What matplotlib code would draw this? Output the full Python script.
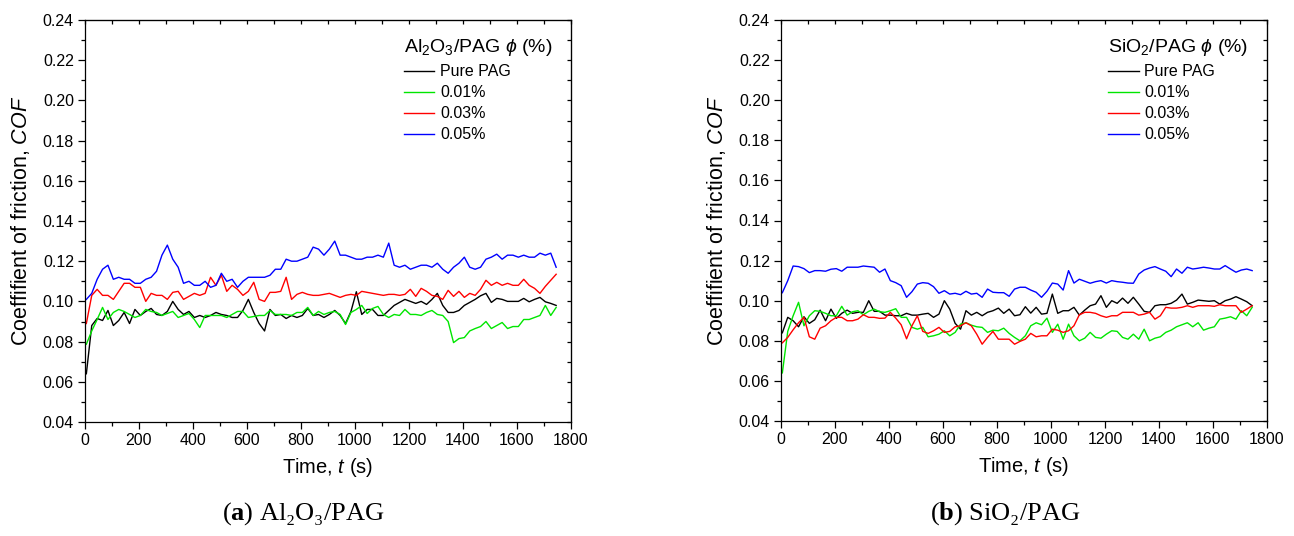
import numpy as np
import matplotlib
matplotlib.use("Agg")
import matplotlib.pyplot as plt
from matplotlib.ticker import MultipleLocator, FormatStrFormatter

plt.rcParams["font.family"] = ["Liberation Sans", "DejaVu Sans"]
plt.rcParams["mathtext.fontset"] = "custom"
plt.rcParams["mathtext.rm"] = "Liberation Sans"
plt.rcParams["mathtext.it"] = "Liberation Sans:italic"
plt.rcParams["mathtext.bf"] = "Liberation Serif:bold"

# sliding time (s), one reading every 20 s
time_s = np.arange(5, 1750, 20)

labels = ["Pure PAG", "0.01%", "0.03%", "0.05%"]
colors = ["#000000", "#00e600", "#ff0000", "#0000ff"]

# (a) Al2O3/PAG
al_pure = [0.064, 0.088, 0.0915, 0.0905, 0.0955, 0.088, 0.0905, 0.0945, 0.089, 0.096,
           0.093, 0.095, 0.0965, 0.0935, 0.093, 0.095, 0.100, 0.096, 0.0935, 0.095,
           0.092, 0.093, 0.092, 0.093, 0.0945, 0.0935, 0.093, 0.092, 0.092, 0.0955,
           0.101, 0.0945, 0.089, 0.0853, 0.096, 0.093, 0.0935, 0.0915, 0.093, 0.092,
           0.093, 0.0965, 0.093, 0.0935, 0.092, 0.0935, 0.0955, 0.093, 0.089, 0.095,
           0.1048, 0.0935, 0.096, 0.096, 0.093, 0.093, 0.0955, 0.098, 0.0995, 0.101,
           0.100, 0.099, 0.100, 0.0985, 0.101, 0.104, 0.098, 0.0945, 0.0945, 0.0955,
           0.098, 0.0995, 0.101, 0.1028, 0.104, 0.0995, 0.1015, 0.101, 0.100, 0.100,
           0.100, 0.1015, 0.0998, 0.101, 0.102, 0.0998, 0.099, 0.098]
al_001 = [0.0787, 0.0853, 0.091, 0.097, 0.091, 0.0945, 0.096, 0.095, 0.0935, 0.092,
          0.093, 0.096, 0.095, 0.0945, 0.093, 0.094, 0.095, 0.092, 0.093, 0.094,
          0.091, 0.087, 0.093, 0.093, 0.093, 0.093, 0.092, 0.0935, 0.095, 0.095,
          0.092, 0.0925, 0.093, 0.093, 0.0955, 0.0935, 0.0935, 0.0935, 0.093, 0.0945,
          0.0945, 0.097, 0.093, 0.095, 0.0935, 0.0945, 0.095, 0.0935, 0.0885, 0.0945,
          0.096, 0.098, 0.094, 0.0965, 0.0975, 0.0935, 0.092, 0.0935, 0.093, 0.096,
          0.0935, 0.0935, 0.093, 0.0945, 0.0955, 0.0935, 0.093, 0.090, 0.0795, 0.0815,
          0.082, 0.0853, 0.0865, 0.0875, 0.090, 0.0865, 0.088, 0.0895, 0.0865, 0.0875,
          0.0875, 0.091, 0.091, 0.092, 0.093, 0.098, 0.093, 0.097]
al_003 = [0.089, 0.103, 0.106, 0.103, 0.103, 0.101, 0.105, 0.109, 0.109, 0.107,
          0.107, 0.100, 0.104, 0.103, 0.103, 0.101, 0.1045, 0.105, 0.101, 0.1025,
          0.104, 0.103, 0.104, 0.112, 0.108, 0.113, 0.105, 0.108, 0.106, 0.103,
          0.105, 0.1095, 0.101, 0.100, 0.1045, 0.1045, 0.105, 0.112, 0.101, 0.1035,
          0.1045, 0.1035, 0.103, 0.103, 0.1035, 0.104, 0.103, 0.102, 0.103, 0.1035,
          0.103, 0.105, 0.1045, 0.104, 0.1035, 0.103, 0.1035, 0.1035, 0.103, 0.1035,
          0.106, 0.1025, 0.1065, 0.105, 0.103, 0.1025, 0.101, 0.1055, 0.1025, 0.105,
          0.102, 0.104, 0.103, 0.106, 0.1105, 0.108, 0.1095, 0.108, 0.109, 0.108,
          0.108, 0.111, 0.108, 0.1065, 0.104, 0.1075, 0.1105, 0.1135]
al_005 = [0.101, 0.104, 0.111, 0.116, 0.118, 0.111, 0.112, 0.111, 0.111, 0.109,
          0.109, 0.111, 0.112, 0.115, 0.123, 0.128, 0.121, 0.117, 0.109, 0.110,
          0.108, 0.108, 0.110, 0.107, 0.108, 0.114, 0.110, 0.111, 0.107, 0.110,
          0.112, 0.112, 0.112, 0.112, 0.113, 0.116, 0.116, 0.121, 0.120, 0.120,
          0.121, 0.122, 0.127, 0.126, 0.123, 0.126, 0.130, 0.123, 0.123, 0.122,
          0.121, 0.121, 0.122, 0.122, 0.123, 0.122, 0.129, 0.118, 0.117, 0.118,
          0.116, 0.117, 0.118, 0.118, 0.117, 0.119, 0.116, 0.114, 0.117, 0.119,
          0.122, 0.117, 0.116, 0.117, 0.121, 0.122, 0.1235, 0.121, 0.123, 0.123,
          0.122, 0.123, 0.122, 0.122, 0.124, 0.123, 0.124, 0.117]

# (b) SiO2/PAG
si_pure = [0.084, 0.0917, 0.090, 0.087, 0.092, 0.0887, 0.0905, 0.0953, 0.090, 0.0958,
           0.0912, 0.0937, 0.0953, 0.0937, 0.0942, 0.0942, 0.100, 0.0947, 0.0947, 0.0928,
           0.0928, 0.0925, 0.0925, 0.0937, 0.0928, 0.0928, 0.0933, 0.0937, 0.0917, 0.0933,
           0.100, 0.0958, 0.0887, 0.0858, 0.095, 0.0928, 0.0942, 0.0925, 0.0942, 0.095,
           0.0963, 0.0937, 0.0958, 0.0925, 0.093, 0.097, 0.0938, 0.0967, 0.0933, 0.0937,
           0.1033, 0.0937, 0.095, 0.095, 0.0967, 0.0928, 0.0953, 0.0975, 0.0983, 0.1025,
           0.0967, 0.100, 0.0987, 0.1013, 0.0987, 0.1017, 0.0983, 0.0947, 0.0942, 0.0975,
           0.098, 0.098, 0.0987, 0.1003, 0.1033, 0.0983, 0.0992, 0.1003, 0.100, 0.0997,
           0.100, 0.0983, 0.100, 0.1008, 0.102, 0.1008, 0.0995, 0.0975]
si_001 = [0.064, 0.0847, 0.0925, 0.0992, 0.0875, 0.0925, 0.095, 0.0947, 0.0937, 0.0925,
          0.0925, 0.0972, 0.0928, 0.0945, 0.095, 0.093, 0.0947, 0.0958, 0.0945, 0.0942,
          0.095, 0.096, 0.0917, 0.0917, 0.0867, 0.0858, 0.0867, 0.082, 0.0825, 0.0833,
          0.085, 0.0825, 0.0842, 0.0883, 0.089, 0.0878, 0.087, 0.0867, 0.0842, 0.0853,
          0.085, 0.0863, 0.0837, 0.0817, 0.080, 0.0825, 0.0875, 0.089, 0.088, 0.0913,
          0.0842, 0.0883, 0.0808, 0.0883, 0.0825, 0.080, 0.0813, 0.0842, 0.0817, 0.0813,
          0.0833, 0.085, 0.0847, 0.0817, 0.0808, 0.0833, 0.0808, 0.0858, 0.080, 0.0813,
          0.082, 0.0842, 0.0853, 0.087, 0.088, 0.089, 0.087, 0.089, 0.0853, 0.0863,
          0.087, 0.0908, 0.0913, 0.092, 0.0908, 0.095, 0.0925, 0.0967]
si_003 = [0.079, 0.0817, 0.0855, 0.089, 0.0917, 0.082, 0.0808, 0.0863, 0.0875, 0.090,
          0.0917, 0.0917, 0.090, 0.090, 0.0908, 0.093, 0.0917, 0.0917, 0.0912, 0.0913,
          0.0942, 0.0913, 0.088, 0.081, 0.0875, 0.0925, 0.0847, 0.0837, 0.085, 0.0867,
          0.0842, 0.0847, 0.087, 0.0875, 0.089, 0.0875, 0.0833, 0.0783, 0.0817, 0.0847,
          0.0808, 0.0808, 0.0808, 0.0783, 0.0797, 0.0808, 0.0837, 0.082, 0.0825, 0.0825,
          0.0858, 0.0853, 0.0842, 0.085, 0.0875, 0.093, 0.0942, 0.0942, 0.0937, 0.0925,
          0.0917, 0.0925, 0.0925, 0.0942, 0.0942, 0.0942, 0.0928, 0.0933, 0.0942, 0.0908,
          0.0925, 0.0967, 0.0963, 0.0963, 0.0967, 0.0975, 0.0967, 0.0975, 0.0975, 0.0975,
          0.0972, 0.098, 0.0975, 0.0975, 0.0975, 0.0942, 0.0958, 0.0975]
si_005 = [0.104, 0.110, 0.1173, 0.117, 0.116, 0.114, 0.115, 0.115, 0.1147, 0.1157,
          0.116, 0.1147, 0.1167, 0.1167, 0.1167, 0.1173, 0.117, 0.1167, 0.1142, 0.1158,
          0.110, 0.109, 0.1075, 0.1017, 0.1045, 0.1083, 0.109, 0.1087, 0.107, 0.1037,
          0.105, 0.1033, 0.1037, 0.103, 0.1047, 0.1033, 0.1037, 0.1017, 0.1058, 0.1042,
          0.104, 0.104, 0.1022, 0.1058, 0.1067, 0.1067, 0.1053, 0.1042, 0.1017, 0.1047,
          0.1088, 0.1083, 0.1053, 0.115, 0.1088, 0.1107, 0.1097, 0.1087, 0.1095, 0.110,
          0.1088, 0.110, 0.1095, 0.1092, 0.1088, 0.1087, 0.1133, 0.1153, 0.1163, 0.117,
          0.1158, 0.1147, 0.112, 0.1158, 0.1137, 0.1167, 0.1158, 0.1162, 0.1167, 0.1163,
          0.1158, 0.1158, 0.1175, 0.1158, 0.1142, 0.1153, 0.1158, 0.115]


def style_axes(ax):
    ax.set_xlim(0, 1800)
    ax.set_ylim(0.04, 0.24)
    ax.xaxis.set_major_locator(MultipleLocator(200))
    ax.xaxis.set_minor_locator(MultipleLocator(100))
    ax.yaxis.set_major_locator(MultipleLocator(0.02))
    ax.yaxis.set_minor_locator(MultipleLocator(0.01))
    ax.yaxis.set_major_formatter(FormatStrFormatter("%.2f"))
    ax.tick_params(which="major", direction="out", length=5, width=0.9,
                   labelsize=11.5, pad=3)
    ax.tick_params(which="minor", direction="out", length=3, width=0.9)
    for sp in ax.spines.values():
        sp.set_linewidth(0.9)

    top = ax.secondary_xaxis("top")
    top.xaxis.set_major_locator(MultipleLocator(200))
    top.xaxis.set_minor_locator(MultipleLocator(100))
    top.tick_params(which="both", direction="in", length=3, width=0.9,
                    labeltop=False)
    right = ax.secondary_yaxis("right")
    right.yaxis.set_major_locator(MultipleLocator(0.02))
    right.yaxis.set_minor_locator(MultipleLocator(0.01))
    right.tick_params(which="both", direction="in", length=3, width=0.9,
                      labelright=False)

    ax.set_xlabel("Time, $t$ (s)", fontsize=14.5, labelpad=6)
    ax.set_ylabel("Coeffifient of friction, $COF$", fontsize=15.5, labelpad=8)


fig = plt.figure(figsize=(12.94, 5.36), dpi=100)
ax_a = fig.add_axes([85 / 1294, 114 / 536, 486 / 1294, 402 / 536])
ax_b = fig.add_axes([781 / 1294, 115 / 536, 486 / 1294, 401 / 536])

panels = [
    (ax_a, [al_pure, al_001, al_003, al_005], "Al$_2$O$_3$/PAG $\\phi$ (%)"),
    (ax_b, [si_pure, si_001, si_003, si_005], "SiO$_2$/PAG $\\phi$ (%)"),
]

for ax, series, title in panels:
    for values, lab, col in zip(series, labels, colors):
        ax.plot(time_s, values, color=col, lw=1.0, label=lab)
    style_axes(ax)
    leg = ax.legend(loc="upper right", bbox_to_anchor=(0.985, 0.985),
                    frameon=False, fontsize=11.5, title=title,
                    title_fontsize=14, alignment="left", handlelength=1.9,
                    handletextpad=0.35, labelspacing=0.38, borderpad=0.2)
    for line in leg.get_lines():
        line.set_linewidth(1.0)

serif = ["Liberation Serif", "DejaVu Serif"]
fig.text(303 / 1294, 22 / 536, "($\\mathbf{a}$) Al\u2082O\u2083/PAG",
         family=serif, fontsize=19, ha="center", va="center")
fig.text(1005 / 1294, 22 / 536, "($\\mathbf{b}$) SiO\u2082/PAG",
         family=serif, fontsize=19, ha="center", va="center")

fig.savefig("out.png", dpi=100)
